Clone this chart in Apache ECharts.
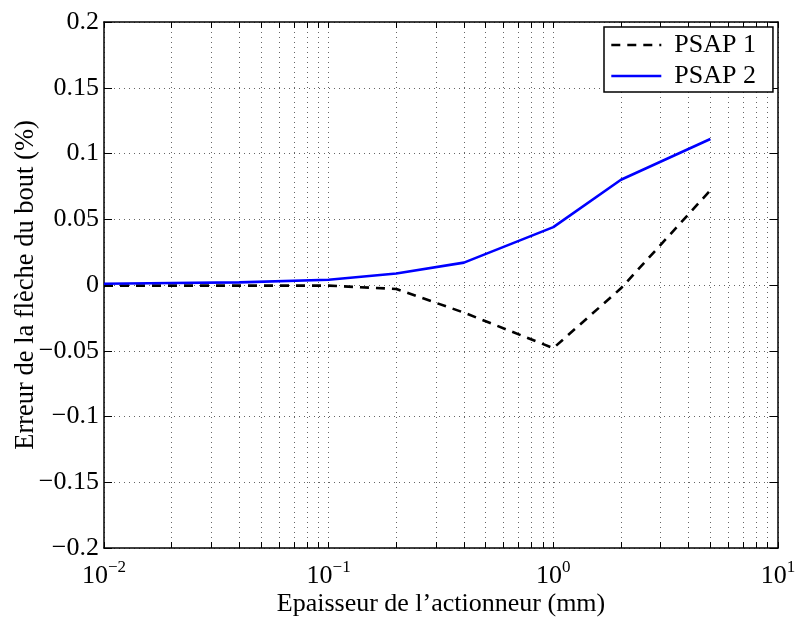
<!DOCTYPE html>
<html>
<head>
<meta charset="utf-8">
<script src="https://cdn.jsdelivr.net/npm/echarts@6/dist/echarts.min.js"></script>
<style>html,body{margin:0;padding:0;background:#fff;}#c{width:798px;height:619px;}</style>
</head>
<body>
<div id="c"></div>
<script>
const thickness = [0.01, 0.02, 0.04, 0.1, 0.2, 0.4, 1, 2, 5];
const psap1 = [-0.0005, -0.0005, -0.0005, -0.0005, -0.003, -0.021, -0.048, -0.0025, 0.072];
const psap2 = [0.001, 0.0015, 0.002, 0.004, 0.0087, 0.017, 0.044, 0.080, 0.111];
const seriesNames = ['PSAP 1', 'PSAP 2'];
const xMajorTicks = [0.01, 0.1, 1, 10];
const xMinorTicks = [];
[0.01, 0.1, 1].forEach(d => { for (let k = 2; k <= 9; k++) xMinorTicks.push(+(d * k).toPrecision(3)); });
const xAllTicks = xMajorTicks.concat(xMinorTicks).sort((a, b) => a - b);
const xTickExp = {0.01: '−2', 0.1: '−1', 1: '0', 10: '1'};

const font = 'Liberation Serif';
const chart = echarts.init(document.getElementById('c'));
const gridLine = {show: true, lineStyle: {color: '#666', type: [1, 4], width: 1}};
const frameLine = {onZero: false, lineStyle: {color: '#000', width: 1.5}};
chart.setOption({
  backgroundColor: '#fff',
  animation: false,
  grid: {left: 104, right: 20, top: 22, bottom: 71, containLabel: false, outerBoundsMode: 'none'},
  legend: {
    left: 604, top: 27, orient: 'vertical',
    backgroundColor: '#fff', borderColor: '#000', borderWidth: 1.5,
    padding: [5, 17, 3, 6], itemGap: 5, itemWidth: 50, itemHeight: 20,
    itemStyle: {opacity: 0},
    lineStyle: {width: 2.6},
    textStyle: {fontFamily: font, fontSize: 26, lineHeight: 26, color: '#000', padding: [0, 0, 0, 8]},
    data: seriesNames
  },
  xAxis: [{
    type: 'log', min: 0.01, max: 10, logBase: 10,
    position: 'bottom',
    name: 'Epaisseur de l’actionneur (mm)', nameLocation: 'middle', nameGap: 43, nameMoveOverlap: false,
    nameTextStyle: {fontFamily: font, fontSize: 26, color: '#000'},
    axisLine: frameLine,
    axisTick: {show: true, inside: true, length: 6, customValues: xAllTicks, lineStyle: {color: '#000'}},
    minorTick: {show: false},
    splitLine: gridLine,
    axisLabel: {
      customValues: xMajorTicks, margin: 11,
      formatter: v => '{b|10}{s|' + xTickExp[+v.toPrecision(3)] + '}',
      rich: {
        b: {fontFamily: font, fontSize: 26, color: '#000', verticalAlign: 'bottom', lineHeight: 30},
        s: {fontFamily: font, fontSize: 17, color: '#000', verticalAlign: 'top', lineHeight: 17}
      }
    }
  }, {
    type: 'log', min: 0.01, max: 10, logBase: 10, position: 'top',
    axisLine: frameLine,
    axisTick: {show: true, inside: true, length: 6, customValues: xAllTicks, lineStyle: {color: '#000'}},
    axisLabel: {show: false}, splitLine: {show: false}
  }],
  yAxis: [{
    type: 'value', min: -0.2, max: 0.2, interval: 0.05, position: 'left',
    name: 'Erreur de la flèche du bout (%)', nameLocation: 'middle', nameGap: 64, nameMoveOverlap: false,
    nameTextStyle: {fontFamily: font, fontSize: 26.5, color: '#000'},
    axisLine: frameLine,
    axisTick: {show: true, inside: true, length: 8, lineStyle: {color: '#000'}},
    splitLine: gridLine,
    axisLabel: {
      fontFamily: font, fontSize: 26, color: '#000', margin: 5,
      formatter: v => {
        const r = Math.round(v * 100) / 100;
        if (r === 0) return '0';
        const s = String(Math.abs(r));
        return (r < 0 ? '−' : '') + s;
      }
    }
  }, {
    type: 'value', min: -0.2, max: 0.2, interval: 0.05, position: 'right',
    axisLine: frameLine,
    axisTick: {show: true, inside: true, length: 8, lineStyle: {color: '#000'}},
    axisLabel: {show: false}, splitLine: {show: false}
  }],
  series: [{
    name: seriesNames[0], type: 'line', xAxisIndex: 0, yAxisIndex: 0,
    data: thickness.map((x, i) => [x, psap1[i]]),
    showSymbol: false, symbol: 'none',
    lineStyle: {color: '#000', width: 2.6, type: [9, 7]},
    itemStyle: {color: '#000'}, z: 3
  }, {
    name: seriesNames[1], type: 'line', xAxisIndex: 0, yAxisIndex: 0,
    data: thickness.map((x, i) => [x, psap2[i]]),
    showSymbol: false, symbol: 'none',
    lineStyle: {color: '#0000ff', width: 2.6},
    itemStyle: {color: '#0000ff'}, z: 4
  }]
});
</script>
</body>
</html>
